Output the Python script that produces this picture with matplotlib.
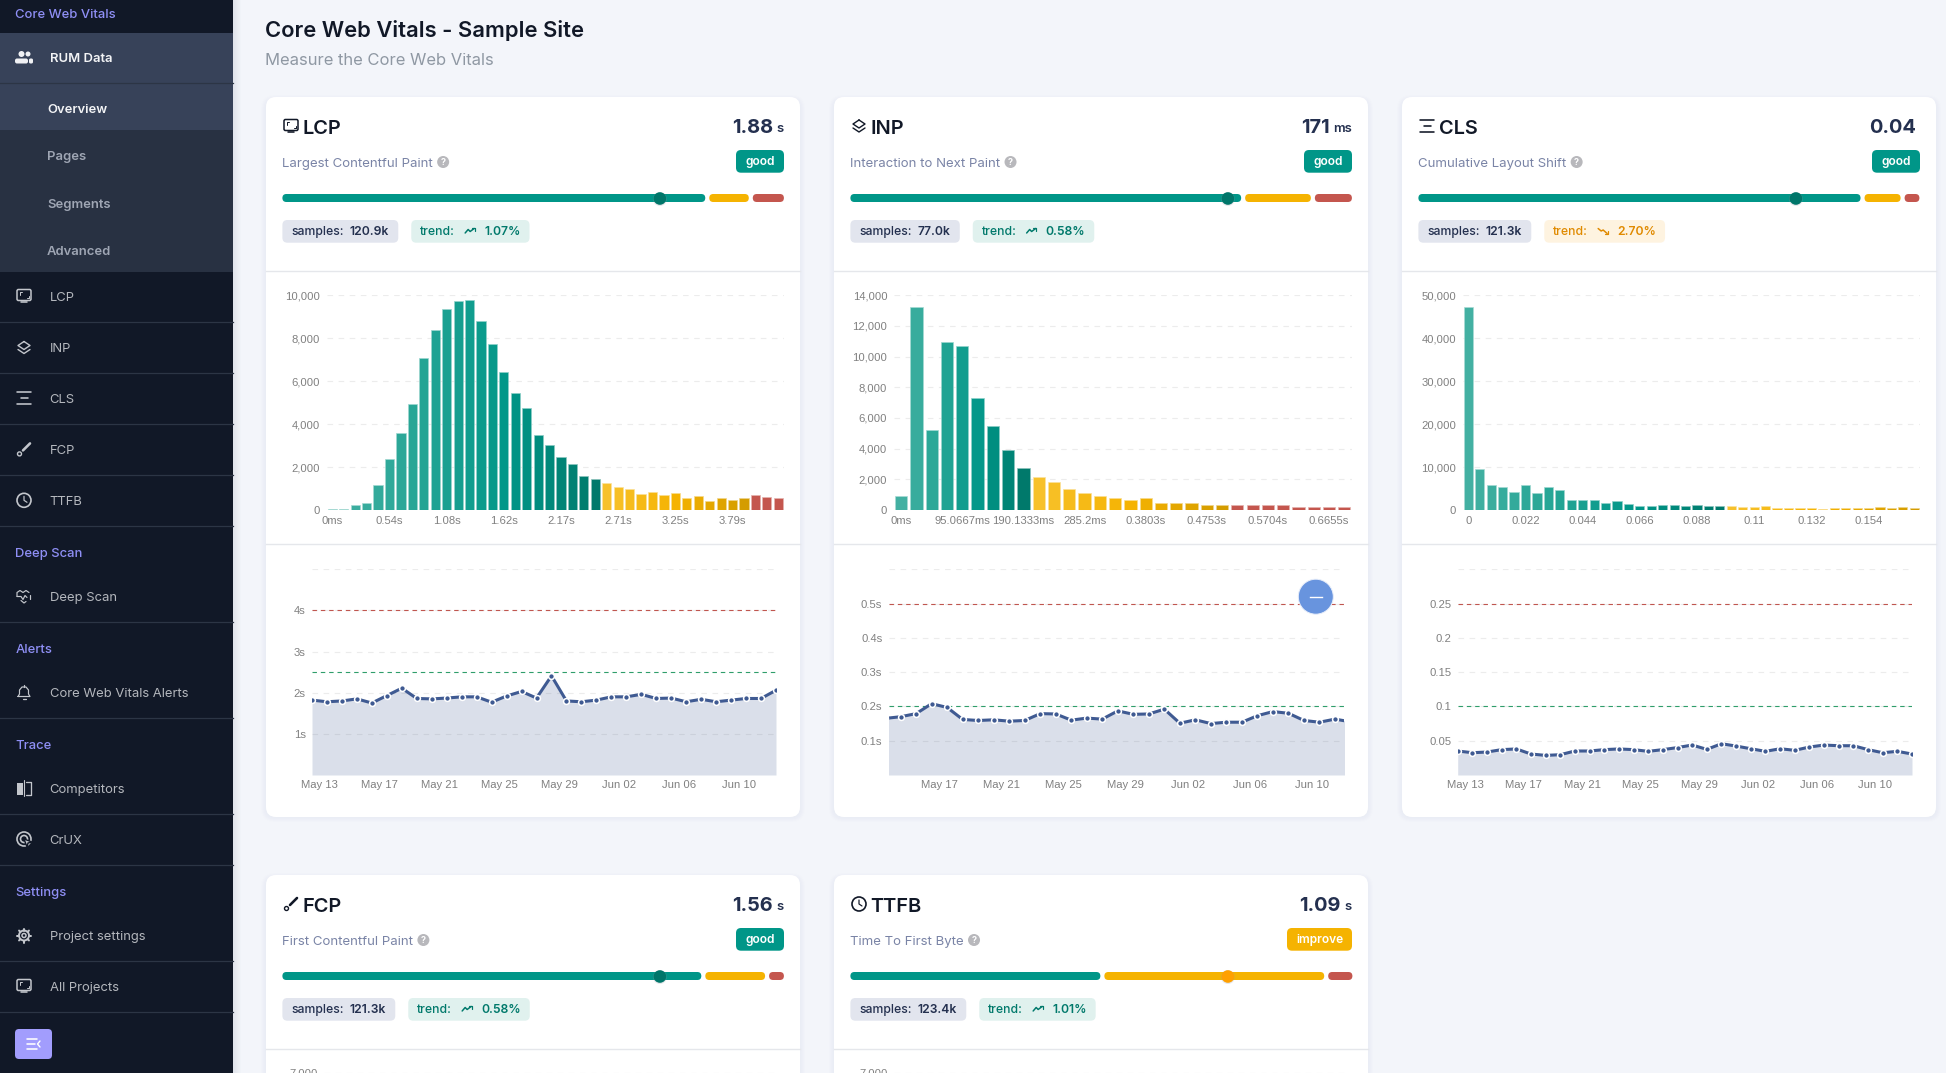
import math
import matplotlib
matplotlib.use('Agg')
import matplotlib.pyplot as plt
from matplotlib.colors import LinearSegmentedColormap, to_rgb
from matplotlib.patches import FancyBboxPatch, Circle, Rectangle, Polygon

W, H = 1946, 1073

# histogram data
lcp_bars = [50, 60, 230, 320, 1165, 2376, 3571, 4922, 7096, 8385, 9379, 9720, 9783, 8804, 7733, 6429,
            5450, 4736, 3494, 3012, 2453, 2127, 1584, 1429, 1258, 1087, 978, 761, 823, 700, 792, 543,
            637, 419, 575, 466, 575, 700, 606, 575]
inp_bars = [935, 13217, 5217, 10935, 10696, 7304, 5457, 3935, 2761, 2130, 1826, 1391, 1109, 935, 783,
            652, 761, 478, 457, 478, 326, 326, 326, 326, 326, 326, 196, 196, 196, 196]
cls_bars = [47205, 9472, 5823, 5435, 4193, 5745, 3882, 5280, 4658, 2252, 2329, 2329, 1630, 2096, 1320,
            932, 932, 1165, 1087, 1009, 1165, 932, 854, 1009, 700, 700, 932, 388, 543, 388, 388, 233,
            388, 388, 388, 388, 700, 543, 700, 466]
# bars in the good / improve / poor bands
lcp_bands = [24, 13, 3]
inp_bands = [9, 13, 8]
cls_bands = [23, 17, 0]

lcp_xlabels = ['0ms', '0.54s', '1.08s', '1.62s', '2.17s', '2.71s', '3.25s', '3.79s']
inp_xlabels = ['0ms', '95.0667ms', '190.1333ms', '285.2ms', '0.3803s', '0.4753s', '0.5704s', '0.6655s']
cls_xlabels = ['0', '0.022', '0.044', '0.066', '0.088', '0.11', '0.132', '0.154']
lcp_yticks = [0, 2000, 4000, 6000, 8000, 10000]
inp_yticks = [0, 2000, 4000, 6000, 8000, 10000, 12000, 14000]
cls_yticks = [0, 10000, 20000, 30000, 40000, 50000]

# daily series
lcp_daily = [1.82, 1.78, 1.80, 1.85, 1.75, 1.93, 2.11, 1.86, 1.85, 1.87, 1.90, 1.90, 1.77, 1.92, 2.03, 1.87,
             2.41, 1.80, 1.78, 1.82, 1.90, 1.90, 1.96, 1.86, 1.87, 1.78, 1.84, 1.78, 1.82, 1.86, 1.86, 2.06]
inp_daily = [0.165, 0.17, 0.179, 0.208, 0.197, 0.162, 0.159, 0.161, 0.157, 0.159, 0.179, 0.178, 0.16, 0.166,
             0.163, 0.187, 0.177, 0.178, 0.192, 0.151, 0.161, 0.15, 0.154, 0.154, 0.173, 0.185, 0.18, 0.159,
             0.154, 0.163, 0.155]
cls_daily = [0.035, 0.0325, 0.0335, 0.037, 0.038, 0.0306, 0.0286, 0.0296, 0.035, 0.035, 0.037, 0.038, 0.037,
             0.0345, 0.037, 0.04, 0.0437, 0.0374, 0.0456, 0.0422, 0.0383, 0.0345, 0.0383, 0.036, 0.0408,
             0.0437, 0.0427, 0.0427, 0.037, 0.0325, 0.0345, 0.0306]
date_labels = ['May 13', 'May 17', 'May 21', 'May 25', 'May 29', 'Jun 02', 'Jun 06', 'Jun 10']
lcp_daily_ticks = [1, 2, 3, 4]
inp_daily_ticks = [0.1, 0.2, 0.3, 0.4, 0.5]
cls_daily_ticks = [0.05, 0.1, 0.15, 0.2, 0.25]

# card headers
card_names = ['LCP', 'INP', 'CLS', 'FCP', 'TTFB']
card_long = ['Largest Contentful Paint', 'Interaction to Next Paint', 'Cumulative Layout Shift',
             'First Contentful Paint', 'Time To First Byte']
card_values = ['1.88', '171', '0.04', '1.56', '1.09']
card_units = ['s', 'ms', '', 's', 's']
card_rating = ['good', 'good', 'good', 'good', 'improve']
card_samples = ['120.9k', '77.0k', '121.3k', '121.3k', '123.4k']
card_trend = ['1.07%', '0.58%', '2.70%', '0.58%', '1.01%']
card_trend_up = [True, True, False, True, True]
good_share = [85.6, 79.1, 89.5, 84.8, 50.6]
improve_share = [8.0, 13.3, 7.3, 12.1, 44.5]
poor_share = [6.3, 7.5, 3.0, 3.0, 4.9]
card_icons = ['screen', 'layers', 'cls', 'brush', 'clock']

# sidebar text
side_sections = ['Core Web Vitals', 'Deep Scan', 'Alerts', 'Trace', 'Settings']
side_section_y = [13.4, 552.5, 648, 744, 891.5]
side_items = ['LCP', 'INP', 'CLS', 'FCP', 'TTFB', 'Deep Scan', 'Core Web Vitals Alerts', 'Competitors', 'CrUX',
              'Project settings', 'All Projects']
side_item_y = [296, 347.5, 398.4, 449.4, 500.3, 596.5, 692, 788, 839, 935.5, 986]
side_item_icons = ['screen', 'layers', 'cls', 'brush', 'clock', 'heart', 'bell', 'compare', 'crux', 'gear', 'screen']
side_lines = [83, 322, 373, 424, 475, 526, 622, 718, 814, 865, 961, 1012]
side_sub = ['Overview', 'Pages', 'Segments', 'Advanced']
side_sub_y = [108.5, 155.6, 203.5, 250]

TEAL = '#009688'
AMBER = '#f5b301'
RED = '#c4564e'
INK = '#111827'
NAVY = '#24304f'
GRID = '#ececec'
TICK = '#808080'
LINE = '#3f5a92'

plt.rcParams['font.family'] = ['Inter', 'DejaVu Sans']
fig = plt.figure(figsize=(W / 100, H / 100), dpi=100, facecolor='#f3f5fa')
renderer = fig.canvas.get_renderer()


def overlay(z):
    a = fig.add_axes([0, 0, 1, 1], zorder=z)
    a.set_xlim(0, W)
    a.set_ylim(H, 0)
    a.axis('off')
    return a


ui = overlay(0)
top = overlay(10)


def txt(x, y, s, px, color=INK, weight='normal', ha='left', a=None):
    # y is the middle of the capitals, sizes are in pixels
    a = a or ui
    return a.text(x, y + 0.36 * px, s, fontsize=px * 0.72, color=color, fontweight=weight, ha=ha, va='baseline',
                  zorder=8)


def width(t):
    return t.get_window_extent(renderer).width


def box(x0, y0, x1, y1, r, color, z=2, alpha=1):
    ui.add_patch(FancyBboxPatch((x0, y0), x1 - x0, y1 - y0, boxstyle=f'round,pad=0,rounding_size={r}',
                                fc=color, ec='none', zorder=z, alpha=alpha))


def stroke(xs, ys, color, lw=1.5, z=5):
    ui.plot(xs, ys, color=color, lw=lw * 0.72, zorder=z, solid_capstyle='round', solid_joinstyle='round')


def icon(kind, cx, cy, c):
    if kind == 'screen':
        ui.add_patch(FancyBboxPatch((cx - 7, cy - 6.5), 14, 11, boxstyle='round,pad=0,rounding_size=1.5',
                                    fc='none', ec=c, lw=1.1, zorder=5))
        stroke([cx - 3, cx + 3], [cy + 6, cy + 6], c, 1.6)
        stroke([cx - 4.5, cx - 4.5, cx - 2.5], [cy - 1.5, cy - 4, cy - 4], c, 1)
        stroke([cx + 4.5, cx + 4.5, cx + 2.5], [cy - 0.5, cy + 2, cy + 2], c, 1)
    elif kind == 'layers':
        stroke([cx, cx + 6, cx, cx - 6, cx], [cy - 6, cy - 2, cy + 2, cy - 2, cy - 6], c, 1.4)
        stroke([cx - 6, cx, cx + 6], [cy + 2, cy + 6, cy + 2], c, 1.4)
    elif kind == 'cls':
        stroke([cx - 7, cx + 7], [cy - 6, cy - 6], c, 1.6)
        stroke([cx - 3.5, cx + 3.5], [cy, cy], c, 1.6)
        stroke([cx - 7, cx + 7], [cy + 6, cy + 6], c, 1.6)
    elif kind == 'brush':
        stroke([cx - 1, cx + 6], [cy + 1, cy - 6], c, 2.6)
        ui.add_patch(Circle((cx - 4.5, cy + 4.5), 2, fc='none', ec=c, lw=1, zorder=5))
    elif kind == 'clock':
        ui.add_patch(Circle((cx, cy), 7, fc='none', ec=c, lw=1.2, zorder=5))
        stroke([cx, cx, cx + 3], [cy - 4, cy, cy + 2], c, 1.2)
    elif kind == 'users':
        ui.add_patch(Circle((cx - 2.5, cy - 3.5), 3, fc=c, ec='none', zorder=5))
        ui.add_patch(Circle((cx + 4, cy - 3.5), 2.5, fc=c, ec='none', zorder=5))
        box(cx - 9, cy + 1, cx + 4, cy + 6, 2, c, 5)
        box(cx + 5, cy + 1, cx + 9, cy + 6, 1.5, c, 5)
    elif kind == 'heart':
        stroke([cx - 7, cx - 7, cx - 4, cx - 1, cx + 2, cx + 5], [cy, cy - 4, cy - 6, cy - 4, cy - 6, cy - 4], c, 1.2)
        stroke([cx - 7, cx - 3, cx - 1, cx + 1, cx + 3], [cy, cy, cy + 3, cy - 1, cy + 1], c, 1.2)
        stroke([cx - 3, cx, cx + 2], [cy + 4, cy + 6.5, cy + 5], c, 1.2)
        stroke([cx + 6, cx + 6], [cy - 2, cy + 2], c, 1.2)
    elif kind == 'bell':
        stroke([cx - 6, cx - 4.5, cx - 4.5, cx - 2, cx + 2, cx + 4.5, cx + 4.5, cx + 6, cx - 6],
               [cy + 4.5, cy + 2, cy - 2, cy - 5, cy - 5, cy - 2, cy + 2, cy + 4.5, cy + 4.5], c, 1.2)
        stroke([cx - 1.5, cx + 1.5], [cy + 7, cy + 7], c, 1.3)
        stroke([cx, cx], [cy - 7, cy - 5], c, 1.3)
    elif kind == 'compare':
        ui.add_patch(Rectangle((cx - 7, cy - 5), 6, 12, fc=c, ec='none', zorder=5))
        stroke([cx + 2, cx + 7, cx + 7, cx + 2], [cy - 6, cy - 6, cy + 7, cy + 7], c, 1.3)
        stroke([cx, cx], [cy - 8, cy + 8], c, 1.1)
    elif kind == 'crux':
        ui.add_patch(Circle((cx, cy), 7, fc='none', ec=c, lw=1.2, zorder=5))
        ui.add_patch(Circle((cx, cy), 3.5, fc='none', ec=c, lw=1.2, zorder=5))
        ui.add_patch(Polygon([(cx, cy), (cx + 8, cy + 3), (cx + 4, cy + 4), (cx + 3, cy + 8)], fc=c, ec='#111827',
                             lw=1, zorder=6))
    elif kind == 'gear':
        ui.add_patch(Circle((cx, cy), 5, fc='none', ec=c, lw=1.4, zorder=5))
        ui.add_patch(Circle((cx, cy), 2, fc='none', ec=c, lw=1.1, zorder=5))
        for k in range(8):
            ang = k * math.pi / 4
            stroke([cx + 5 * math.cos(ang), cx + 7 * math.cos(ang)],
                   [cy + 5 * math.sin(ang), cy + 7 * math.sin(ang)], c, 2)


def sidebar():
    ui.add_patch(Rectangle((0, 0), 233, H, fc='#111827', ec='none', zorder=1))
    for i in range(8):
        ui.add_patch(Rectangle((233 + i, 0), 1, H, fc='#8890a0', alpha=0.16 - i * 0.02, ec='none', zorder=1))
    ui.add_patch(Rectangle((0, 33), 233, 97, fc='#374259', ec='none', zorder=1.2))
    ui.add_patch(Rectangle((0, 130), 233, 142, fc='#283142', ec='none', zorder=1.2))
    for y in side_lines:
        ui.plot([0, 233], [y, y], color='#2c3545', lw=0.9, zorder=2)
    for s, y in zip(side_sections, side_section_y):
        txt(15.3, y, s, 13, color='#8f8ff5', weight='medium')
    icon('users', 24, 57.5, '#f0f1f4')
    txt(49.7, 57.5, 'RUM Data', 13, color='#f3f4f6', weight='semibold')
    for i, (s, y) in enumerate(zip(side_sub, side_sub_y)):
        txt(47, y, s, 13, color='#f3f4f6' if i == 0 else '#9fa6b4', weight='semibold')
    for s, y, k in zip(side_items, side_item_y, side_item_icons):
        icon(k, 24, y, '#c3c6cc')
        txt(49.7, y, s, 13, color='#b4b7bd')
    box(15, 1029, 52, 1059, 4, '#a29dfd', 3)
    for y0, x1 in [(1039, 37), (1044, 35), (1049, 37)]:
        stroke([27, x1], [y0, y0], 'white', 1.6)
    stroke([40, 37.5, 40], [1041, 1044, 1047], 'white', 1.4)


def card(i, x0, y0, extra=True):
    x1 = x0 + 534
    left = x0 + 16.4
    right = x0 + 518
    for g in range(6):
        box(x0 - g, y0 - g + 3, x1 + g, y0 + 720 + g, 10 + g, '#d8dcea', 2, 0.05)
    box(x0, y0, x1, y0 + 720, 10, 'white', 2.5)
    ui.plot([x0, x1], [y0 + 174, y0 + 174], color='#e5e7eb', lw=1, zorder=3)
    if extra:
        ui.plot([x0, x1], [y0 + 447, y0 + 447], color='#e5e7eb', lw=1, zorder=3)

    # title row
    icon(card_icons[i], x0 + 25, y0 + 29, INK)
    txt(x0 + 36.5, y0 + 30, card_names[i], 20, color=INK, weight='semibold')
    ux = right
    if card_units[i]:
        u = txt(right, y0 + 30, card_units[i], 13, color=NAVY, weight='semibold', ha='right')
        ux = right - width(u) - 4
    else:
        ux = right - 4
    txt(ux, y0 + 28.5, card_values[i], 20, color=NAVY, weight='bold', ha='right')

    # subtitle + rating badge
    sub = txt(left, y0 + 65, card_long[i], 13.2, color='#7a84a6')
    qx = left + width(sub) + 10
    ui.add_patch(Circle((qx, y0 + 65), 6, fc='#b8b8bc', ec='none', zorder=5))
    txt(qx, y0 + 65, '?', 9, color='white', weight='bold', ha='center')
    is_good = card_rating[i] == 'good'
    bw = 48 if is_good else 65
    box(right - bw, y0 + 53, right, y0 + 75.7, 5, TEAL if is_good else AMBER, 4)
    txt(right - bw / 2, y0 + 64, card_rating[i], 12, color='white', weight='semibold', ha='center')

    # progress bar, the track has two 4px gaps
    track = 494
    x = left
    for share, col in zip([good_share[i], improve_share[i], poor_share[i]], [TEAL, AMBER, RED]):
        w = share / 100 * track
        box(x, y0 + 97, x + w, y0 + 105, 4 if w > 8 else 3, col, 4)
        x += w + 4
    dot = left + 0.752 * 502
    ui.add_patch(Circle((dot, y0 + 102), 7, fc='#9aa0aa', alpha=0.25, ec='none', zorder=4.5))
    ui.add_patch(Circle((dot, y0 + 101.5), 6.3, fc='#00766a' if is_good else '#ffa000', ec='none', zorder=5))

    # samples + trend chips
    t1 = txt(left + 9, y0 + 134, 'samples:', 12.2, color=NAVY, weight='medium')
    xv = left + 9 + width(t1) + 6
    t2 = txt(xv, y0 + 134, card_samples[i], 12.2, color=NAVY, weight='semibold')
    chip_end = xv + width(t2) + 9
    box(left, y0 + 123, chip_end, y0 + 145.7, 5, '#e2e5ee', 3)
    up = card_trend_up[i]
    tc = '#00796b' if up else '#e08a00'
    tx = chip_end + 13
    t3 = txt(tx + 9, y0 + 134, 'trend:', 12.2, color=tc, weight='medium')
    ix = tx + 9 + width(t3) + 15
    if up:
        stroke([ix - 5, ix - 2, ix, ix + 4], [y0 + 136, y0 + 132.5, y0 + 134.5, y0 + 131.5], tc, 1.5)
        stroke([ix + 1.5, ix + 4.5, ix + 4.5], [y0 + 131, y0 + 131, y0 + 134], tc, 1.2)
    else:
        stroke([ix - 5, ix - 2, ix, ix + 4], [y0 + 131.5, y0 + 134, y0 + 133, y0 + 136.5], tc, 1.5)
        stroke([ix + 1.5, ix + 4.5, ix + 4.5], [y0 + 137, y0 + 137, y0 + 134], tc, 1.2)
    t4 = txt(ix + 14, y0 + 134, card_trend[i], 12.2, color=tc, weight='semibold')
    box(tx, y0 + 123, ix + 14 + width(t4) + 9, y0 + 145.7, 5, '#e0f1ee' if up else '#fef3e0', 3)


def new_axes(x0, y0, x1, y1):
    a = fig.add_axes([x0 / W, 1 - y1 / H, (x1 - x0) / W, (y1 - y0) / H], zorder=3)
    a.patch.set_alpha(0)
    for s in a.spines.values():
        s.set_visible(False)
    a.tick_params(length=0, colors=TICK, labelsize=8.1)
    a.grid(axis='y', color=GRID, lw=0.8, ls=(0, (5, 5)))
    a.set_axisbelow(True)
    return a


ramps = [LinearSegmentedColormap.from_list('good', ['#43b0a2', '#25a595', '#009688', '#00796b']),
         LinearSegmentedColormap.from_list('imp', ['#f7c12b', '#f5b301', '#d49c00']),
         LinearSegmentedColormap.from_list('poor', [RED, RED])]


def hist(x0, y0, x1, values, bands, xlabels, yticks):
    a = new_axes(x0, y0 + 198.3, x1, y0 + 413)
    cols = []
    for n, ramp in zip(bands, ramps):
        cols += [ramp(k / max(n - 1, 1)) for k in range(n)]
    edge = [tuple(0.45 * p + 0.55 for p in to_rgb(c)) for c in cols]
    a.bar(range(len(values)), values, width=0.8, color=cols, edgecolor=edge, lw=0.5, zorder=3)
    step = 5 if len(values) == 40 else 4
    a.set_xticks(range(0, len(xlabels) * step, step), xlabels, family='Liberation Sans')
    a.set_yticks(yticks, [f'{v:,}' for v in yticks], family='Liberation Sans')
    a.set_xlim(-0.5, len(values) - 0.5)
    a.set_ylim(0, yticks[-1])
    a.tick_params(axis='x', pad=4.3)
    a.tick_params(axis='y', pad=4.5)
    return a


def daily(x0, x1, y0, values, xlim, labels, ticks, tick_fmt, ymax, red, green, first_tick):
    a = new_axes(x0, y0 + 472.3, x1, y0 + 678)
    xs = list(range(len(values)))
    a.fill_between(xs, values, 0, color=LINE, alpha=0.19, lw=0, zorder=1.5)
    a.axhline(red, color='#c0564f', lw=0.8, ls=(0, (4, 3.5)), zorder=2)
    a.axhline(green, color='#2f9e6b', lw=0.8, ls=(0, (4, 3.5)), zorder=2)
    a.plot(xs, values, color=LINE, lw=2.2, marker='o', ms=4.2, mfc=LINE, mec='white', mew=1.1, zorder=4)
    a.set_xticks([first_tick + 4 * k for k in range(len(labels))], labels, family='Liberation Sans')
    a.set_yticks(ticks + [ymax], [tick_fmt(v) for v in ticks] + [''], family='Liberation Sans')
    a.set_xlim(*xlim)
    a.set_ylim(0, ymax)
    a.tick_params(axis='x', pad=3.5)
    a.tick_params(axis='y', pad=4.5)
    return a


sidebar()
txt(265, 29, 'Core Web Vitals - Sample Site', 22, color=INK, weight='semibold')
txt(265, 59.5, 'Measure the Core Web Vitals', 16.6, color='#8f98a3')

card_x = [266, 834, 1402, 266, 834]
card_y = [97, 97, 97, 875, 875]
for i in range(5):
    card(i, card_x[i], card_y[i], extra=i < 3)

hist(326.6, 97, 784, lcp_bars, lcp_bands, lcp_xlabels, lcp_yticks)
hist(893.5, 97, 1352, inp_bars, inp_bands, inp_xlabels, inp_yticks)
hist(1462.6, 97, 1920, cls_bars, cls_bands, cls_xlabels, cls_yticks)

daily(312, 776, 97, lcp_daily, (0, 31), date_labels, lcp_daily_ticks, lambda v: f'{v}s', 5, 4, 2.5, 0.5)
daily(888.6, 1344, 97, inp_daily, (0.226, 29.58), date_labels[1:], inp_daily_ticks, lambda v: f'{v}s',
      0.6, 0.5, 0.2, 3.5)
daily(1457.7, 1912, 97, cls_daily, (0, 31), date_labels, cls_daily_ticks, lambda v: f'{v}', 0.3, 0.25, 0.1, 0.5)

# top of the charts in the second row, cut off by the window
for x0, x1 in [(324, 779), (894, 1348)]:
    ui.plot([x0, x1], [1072.5, 1072.5], color=GRID, lw=0.8, ls=(0, (5, 5)), zorder=4)
    ui.text(x0 - 6, 1073, '7,000', fontsize=8.1, color=TICK, ha='right', va='center', family='Liberation Sans',
            zorder=4)

# floating button over the INP chart
top.add_patch(Circle((1315.8, 596.7), 17.5, fc='#6894de', ec='#e8eefa', lw=0.7))
top.plot([1310, 1322], [597, 597], color='white', lw=1)

fig.savefig('out.png', dpi=100, facecolor=fig.get_facecolor())
